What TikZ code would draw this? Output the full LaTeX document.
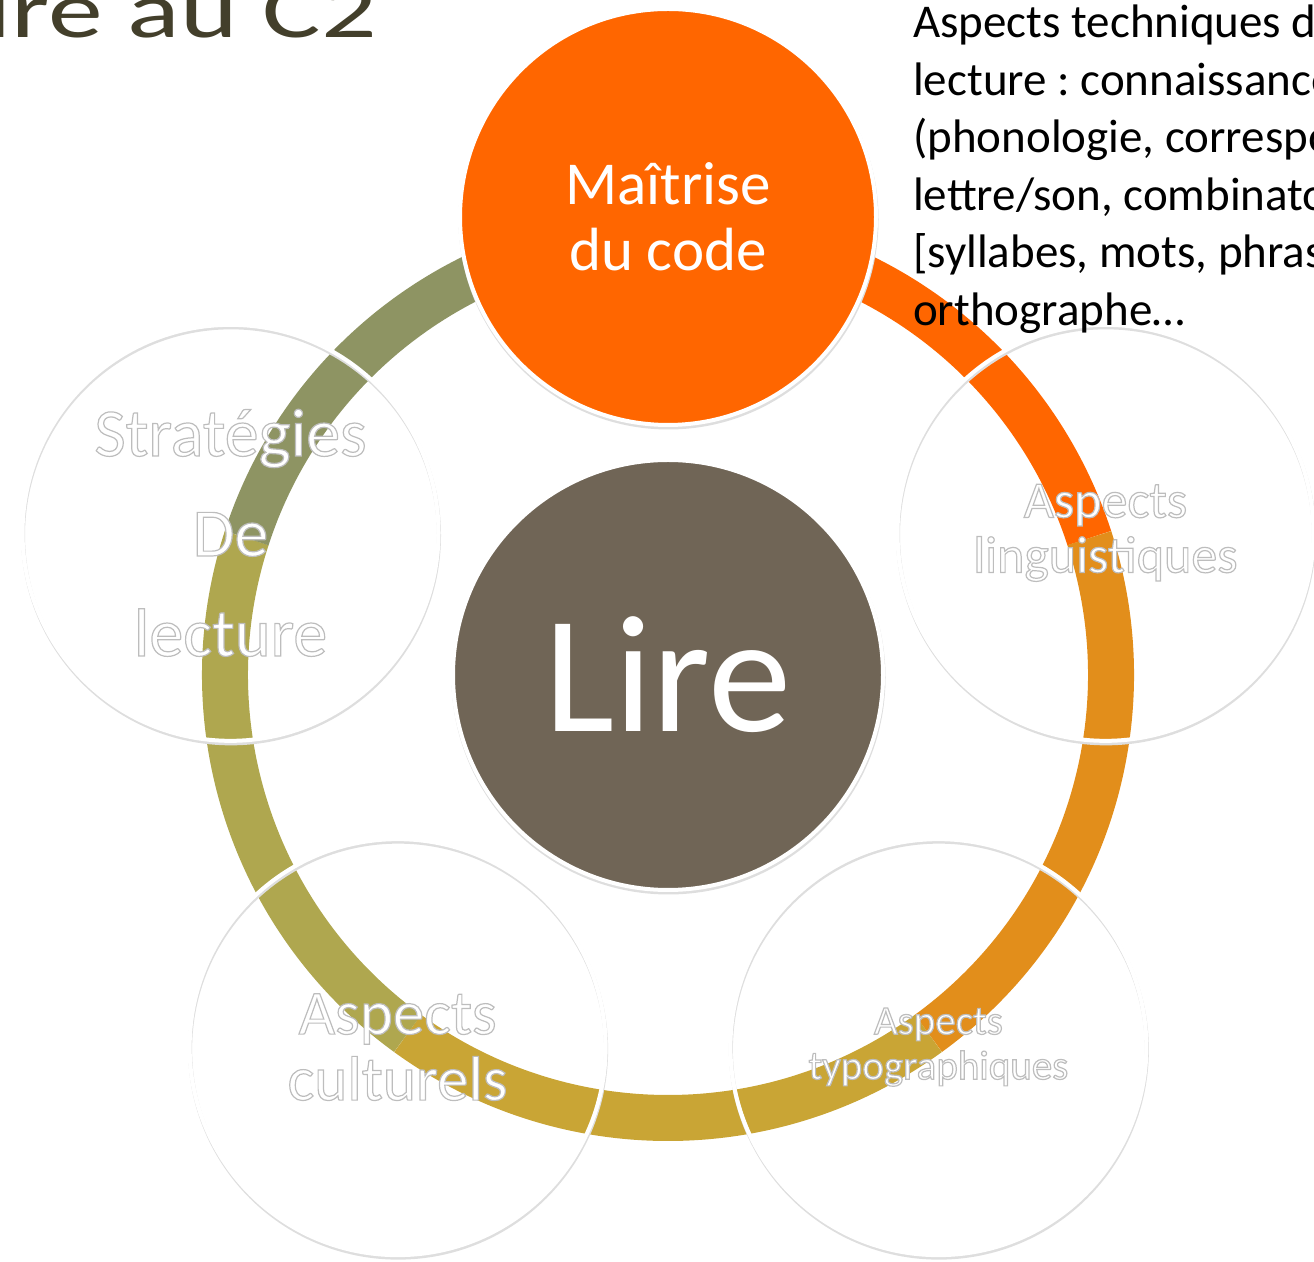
\documentclass[tikz,border=0pt]{standalone}
\usepackage{fontspec}
\setmainfont{Carlito}
\newfontfamily\titlefont[FakeStretch=1.37]{Carlito}
\frenchspacing
\definecolor{lirebrown}{HTML}{706556}
\definecolor{codeorange}{HTML}{FF6600}
\definecolor{titlecol}{HTML}{433F2B}
\definecolor{ringA}{HTML}{FF6600}
\definecolor{ringB}{HTML}{E28E1B}
\definecolor{ringC}{HTML}{C9A535}
\definecolor{ringD}{HTML}{AFA74F}
\definecolor{ringE}{HTML}{8E9463}
\tikzset{basic/.style={circle,draw=white,line width=4pt,inner sep=0pt,
                       align=center,text=white,
                       preaction={draw=black!13,line width=4pt,
                                  transform canvas={shift={(0.5pt,-2.5pt)}}}}}
\tikzset{hub/.style={basic,fill=lirebrown,minimum size=430pt}}
\tikzset{topic/.style={basic,minimum size=416pt}}
\tikzset{ring/.style={line width=46pt}}
% white letters with a thin grey edge
\newcommand{\shd}[1]{\special{pdf:literal direct 2 Tr 1.2 w 0.74 G}#1%
                     \special{pdf:literal direct 0 Tr}}

\begin{document}
\begin{tikzpicture}[x=1pt,y=1pt]
    \useasboundingbox (0,0) rectangle (1314,1261);
    \node[hub,font=\fontsize{167}{167}\selectfont] (lire) at (668,586) {Lire};
    % ring, clockwise from the top
    \foreach \a/\c in {90/ringA,18/ringB,-54/ringC,-126/ringD,162/ringE}{%
          \draw[ring,\c] (lire.center) ++(\a:443pt)
                arc[start angle=\a,end angle=\a-72,radius=443pt];
        }
    \node[topic,fill=codeorange,font=\fontsize{61}{66}\selectfont] (code)
          at ([shift={(90:458pt)}]lire.center) {Maîtrise\\du code};
    \foreach \a/\fs/\ls/\n/\t in {162/68/100/strat/{Stratégies\\De\\lecture},
                                18/52/55/ling/{Aspects\\linguistiques},
                                306/41/45/typo/{Aspects\\typographiques},
                                234/63/66/cult/{Aspects\\culturels}}{%
          \node[topic,font=\fontsize{\fs}{\ls}\selectfont] (\n)
                at ([shift={(\a:460pt)}]lire.center) {\shd{\t}};
        }
    % Labels
    \node[anchor=base east,inner sep=0pt,text=titlecol,
          font=\titlefont\fontsize{80}{80}\selectfont] (title) at (377,1223) {Lire au C2};
    \node[anchor=north west,align=left,inner sep=0pt,
          font=\fontsize{47}{57.5}\selectfont] (notes) at (913,1256)
          {Aspects techniques de\\
           lecture : connaissance\\
           (phonologie, correspondance\\
           lettre/son, combinatoire\\{}%
           [syllabes, mots, phrases\\
           orthographe…};
\end{tikzpicture}
\end{document}
